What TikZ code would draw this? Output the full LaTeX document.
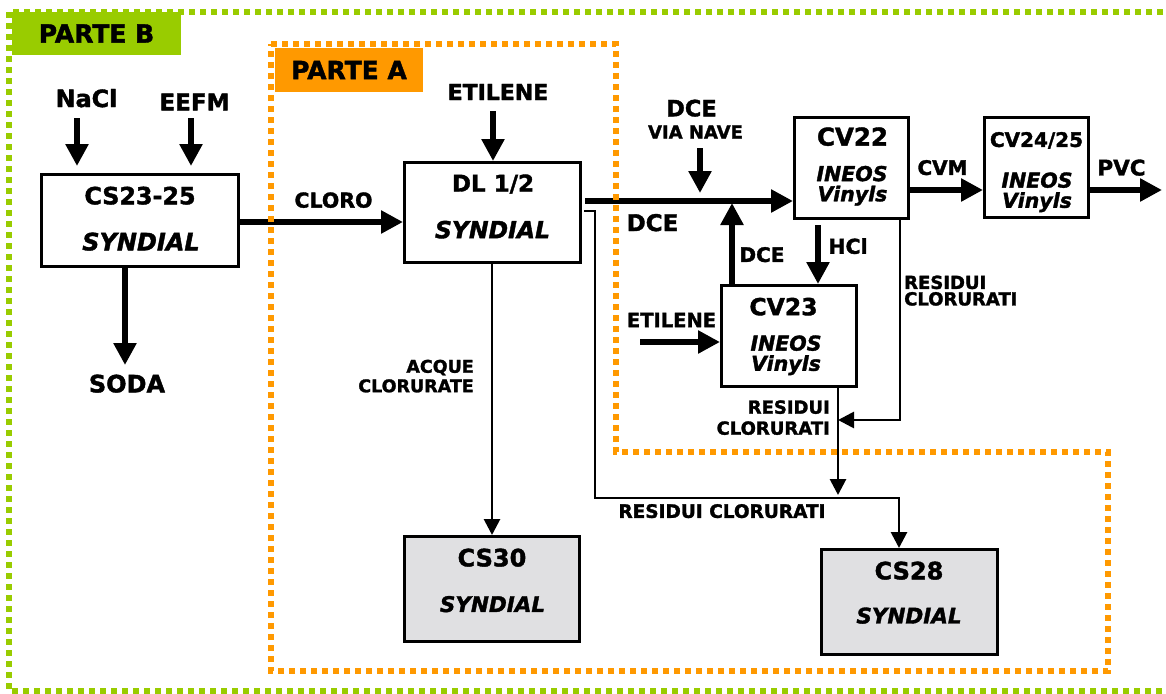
\documentclass[tikz,border=0pt]{standalone}
\usepackage{fontspec}
\setmainfont{DejaVu Sans}[BoldFeatures={FakeBold=1.6}, BoldItalicFeatures={FakeBold=1.6}]
\usetikzlibrary{arrows.meta}
\definecolor{gB}{HTML}{99CC00}
\definecolor{oA}{HTML}{FF9900}
\definecolor{grayfill}{HTML}{E0E0E2}
\begin{document}
\begin{tikzpicture}[x=1pt,y=-1pt,
  lbl/.style={inner sep=0pt, text depth=0pt, font=\bfseries\fontsize{#1}{#1}\selectfont},
  ilbl/.style={inner sep=0pt, text depth=0pt, font=\bfseries\itshape\fontsize{#1}{#1}\selectfont},
  box/.style={draw, line width=3pt, inner sep=0pt, fill=white},
  thk/.style={line width=5.5pt, -{Triangle[width=22pt,length=22pt]}},
  thn/.style={line width=2.8pt, -{Triangle[width=16pt,length=16pt]}},
  dotB/.style={gB, line width=6pt, dash pattern=on 6pt off 5pt},
  dotA/.style={oA, line width=6pt, dash pattern=on 6pt off 5pt}
]
\useasboundingbox (0,0) rectangle (1166,693);
\fill[white] (0,0) rectangle (1166,693);

% Parte B border
\draw[dotB] (9,12) rectangle (1172,691);

% boxes
\node[box, minimum width=197, minimum height=92] (cs) at (140,220.5) {};
\node[box, minimum width=176, minimum height=100] (dl) at (492.5,212.5) {};
\node[box, fill=grayfill, minimum width=175, minimum height=105] (cs30) at (492,589) {};
\node[box, minimum width=114, minimum height=101] (cv22) at (851.5,168) {};
\node[box, minimum width=104, minimum height=100] (cv24) at (1036.5,167.5) {};
\node[box, minimum width=135, minimum height=101] (cv23) at (789,336) {};
\node[box, fill=grayfill, minimum width=176, minimum height=105] (cs28) at (909.5,602) {};

% coordinates for free ends / levels
\coordinate (nA) at (77,118);  \coordinate (nB) at (77,166);
\coordinate (eA) at (191,118); \coordinate (eB) at (191,166);
\coordinate (sodaT) at (125,365);
\coordinate (yCl) at (0,222);
\coordinate (etA) at (493,111);
\coordinate (dceS) at (585,201);
\coordinate (vnA) at (700,148); \coordinate (vnB) at (700,193);
\coordinate (upT) at (732,203);
\coordinate (yCvm) at (0,190);
\coordinate (pvcT) at (1162,190);
\coordinate (hclA) at (818,225);
\coordinate (et2A) at (640,342);
\coordinate (r1) at (900,420); \coordinate (r1T) at (838,420);
\coordinate (r2T) at (838,495);
\coordinate (d1) at (584,211); \coordinate (d2) at (595,211);
\coordinate (d3) at (595,498); \coordinate (d4) at (899,498);

% connectors
\draw[thk] (nA) -- (nB);
\draw[thk] (eA) -- (eB);
\draw[thk] (cs.south -| sodaT) -- (sodaT);
\draw[thk] (cs.east |- yCl) -- (dl.west |- yCl);
\draw[thk] (etA) -- (dl.north -| etA);
\draw[thn] (dl.south -| cs30.north) -- (cs30.north);
\draw[thk] (dceS) -- (cv22.west |- dceS);
\draw[thk] (vnA) -- (vnB);
\draw[thk] (cv23.north -| upT) -- (upT);
\draw[thk] (cv22.east |- yCvm) -- (cv24.west |- yCvm);
\draw[thk] (cv24.east |- pvcT) -- (pvcT);
\draw[thk] (hclA) -- (cv23.north -| hclA);
\draw[thk] (et2A) -- (cv23.west |- et2A);
\draw[thn] (cv22.south -| r1) -- (r1) -- (r1T);
\draw[thn] (cv23.south -| r2T) -- (r2T);
\draw[thn] (d1) -- (d2) -- (d3) -- (d4) -- (cs28.north -| d4);

% Parte A border
\draw[dotA] (271,44) -- (616,44) -- (616,452) -- (1108,452) -- (1108,671) -- (271,671) -- cycle;

% Parte labels
\node[lbl=25, fill=gB, minimum width=169, minimum height=43] (pb) at (96.5,33.5) {PARTE B};
\node[lbl=25, fill=oA, minimum width=148, minimum height=44] (pa) at (349,70) {PARTE A};

% texts
\node[lbl=23.8] (nacl) at (86.5,98) {NaCl};
\node[lbl=23] (eefm) at (194.5,102) {EEFM};
\node[lbl=23.8] (cst) at (140,195.5) {CS23-25};
\node[ilbl=24] (css) at (141,241.5) {SYNDIAL};
\node[lbl=24] (soda) at (127,383.5) {SODA};
\node[lbl=20.5] (cloro) at (333.5,200) {CLORO};
\node[lbl=23] (dlt) at (493,183) {DL 1/2};
\node[ilbl=23.5] (dls) at (492.5,229.5) {SYNDIAL};
\node[lbl=22] (etil1) at (498,92) {ETILENE};
\node[lbl=17.5, align=right, anchor=east, font=\bfseries\fontsize{17.5}{19.5}\selectfont] (acq) at (474,376) {ACQUE\\CLORURATE};
\node[lbl=22.5] (dce1) at (691.5,108) {DCE};
\node[lbl=18] (nave) at (695.5,132) {VIA NAVE};
\node[lbl=23] (dce2) at (652.5,222.5) {DCE};
\node[lbl=20] (dce3) at (762,254.5) {DCE};
\node[lbl=24.5] (cv22t) at (852.5,136.5) {CV22};
\node[ilbl=20.5] (cv22i) at (852,173.5) {INEOS};
\node[ilbl=20.5] (cv22v) at (852.5,193.5) {Vinyls};
\node[lbl=20] (cvm) at (942.5,167.5) {CVM};
\node[lbl=20] (cv24t) at (1036.5,139.5) {CV24/25};
\node[ilbl=20.5] (cv24i) at (1037,180) {INEOS};
\node[ilbl=20.5] (cv24v) at (1037,200) {Vinyls};
\node[lbl=21.5] (pvc) at (1121.5,167.5) {PVC};
\node[lbl=20.5] (hcl) at (848,246) {HCl};
\node[lbl=18, align=left, anchor=west, font=\bfseries\fontsize{18}{16.5}\selectfont] (res1) at (904,290.5) {RESIDUI\\CLORURATI};
\node[lbl=23.5] (cv23t) at (783.5,306.5) {CV23};
\node[ilbl=20.5] (cv23i) at (786,343) {INEOS};
\node[ilbl=20.5] (cv23v) at (786,363) {Vinyls};
\node[lbl=19.5] (etil2) at (671.5,320) {ETILENE};
\node[lbl=18, align=right, anchor=east, font=\bfseries\fontsize{18}{21}\selectfont] (res2) at (830,417.5) {RESIDUI\\CLORURATI};
\node[lbl=18.5] (res3) at (722,511) {RESIDUI CLORURATI};
\node[lbl=24] (cs30t) at (492,557.5) {CS30};
\node[ilbl=21.5] (cs30s) at (492.5,604) {SYNDIAL};
\node[lbl=24] (cs28t) at (909,570.5) {CS28};
\node[ilbl=21.5] (cs28s) at (909,615.5) {SYNDIAL};
\end{tikzpicture}
\end{document}
